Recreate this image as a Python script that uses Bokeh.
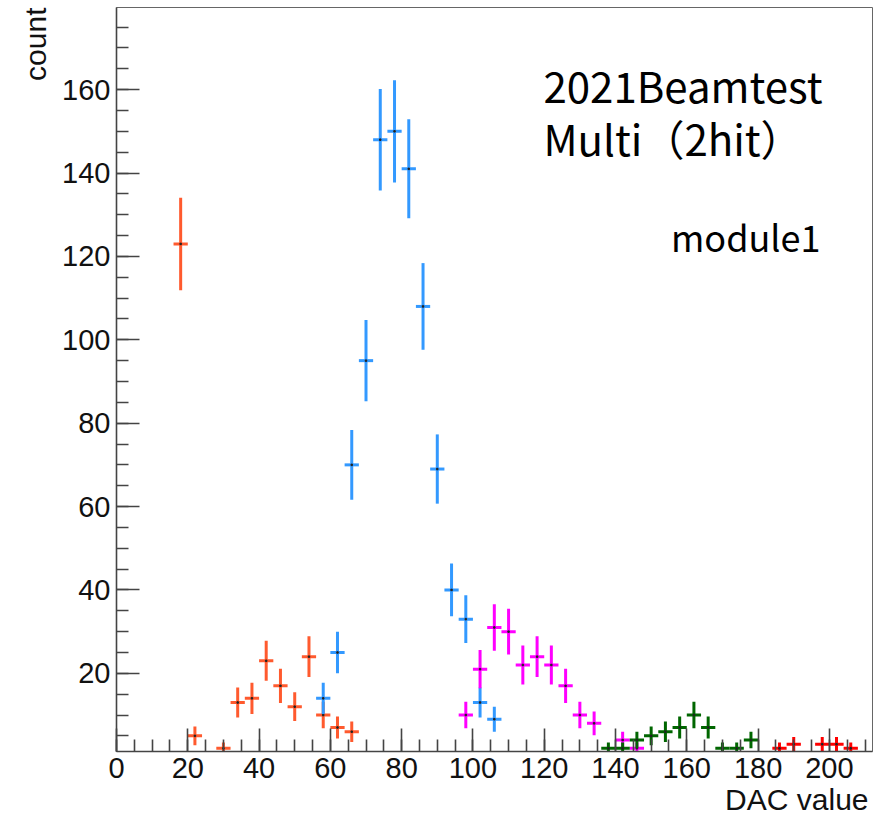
import numpy as np
from bokeh.plotting import figure
from bokeh.models import Label, SingleIntervalTicker, Range1d, Title
from bokeh.embed import file_html
from bokeh.resources import INLINE

# ---- data ----
orange_x = [18, 22, 30, 34, 38, 42, 46, 50, 54, 58, 62, 66]
orange_y = [123, 5, 2, 13, 14, 23, 17, 12, 24, 10, 7, 6]

blue_x = [58, 62, 66, 70, 74, 78, 82, 86, 90, 94, 98, 102, 106]
blue_y = [14, 25, 70, 95, 148, 150, 141, 108, 69, 40, 33, 13, 9]

magenta_x = [98, 102, 106, 110, 114, 118, 122, 126, 130, 134, 142, 146]
magenta_y = [10, 21, 31, 30, 22, 24, 22, 17, 10, 8, 4, 2]

green_x = [138, 142, 146, 150, 154, 158, 162, 166, 170, 174, 178]
green_y = [2, 2, 4, 5, 6, 7, 10, 7, 2, 2, 4]

red_x = [186, 190, 198, 202, 206]
red_y = [2, 3, 3, 3, 2]

bin_half_width = 2
series = [
    (orange_x, orange_y, "#ff5a2e"),
    (blue_x, blue_y, "#3399ff"),
    (magenta_x, magenta_y, "#ff00ff"),
    (green_x, green_y, "#006600"),
    (red_x, red_y, "#ff0000"),
]

p = figure(width=877, height=820, output_backend="svg", toolbar_location=None,
           x_range=Range1d(0, 212.1), y_range=Range1d(1.25, 179.7),
           min_border_left=116, min_border_right=5, min_border_top=7, min_border_bottom=69)

p.xgrid.visible = False
p.ygrid.visible = False
p.outline_line_color = "#666666"
p.outline_line_width = 1
p.background_fill_color = "white"
p.border_fill_color = "white"

for ax in (p.xaxis[0], p.yaxis[0]):
    ax.ticker = SingleIntervalTicker(interval=20, num_minor_ticks=4)
    ax.major_tick_in = 23
    ax.major_tick_out = 0
    ax.minor_tick_in = 12
    ax.minor_tick_out = 0
    ax.axis_line_color = "#444444"
    ax.axis_line_width = 1.6
    ax.major_tick_line_color = "#444444"
    ax.major_tick_line_width = 1.6
    ax.minor_tick_line_color = "#444444"
    ax.minor_tick_line_width = 1.6
    ax.major_label_text_font = "Liberation Sans"
    ax.major_label_text_font_size = "29px"
    ax.major_label_text_color = "#111111"

p.xaxis[0].major_label_standoff = 6
p.yaxis[0].major_label_standoff = 6
p.yaxis[0].major_label_overrides = {0: ""}

# axis titles, ROOT style (aligned to the axis end)
p.add_layout(Title(text="DAC value", align="right", standoff=0, offset=4,
                   text_font="Liberation Sans", text_font_size="30px",
                   text_font_style="normal", text_color="#111111"), "below")
p.add_layout(Title(text="count", align="right", standoff=16, offset=0,
                   text_font="Liberation Sans", text_font_size="30px",
                   text_font_style="normal", text_color="#111111"), "left")

for xs, ys, col in series:
    xs = np.array(xs, dtype=float)
    ys = np.array(ys, dtype=float)
    err = np.sqrt(ys)
    p.segment(x0=xs, y0=ys - err, x1=xs, y1=ys + err, line_color=col, line_width=3)
    p.segment(x0=xs - bin_half_width, y0=ys, x1=xs + bin_half_width, y1=ys,
              line_color=col, line_width=3)
    p.scatter(x=xs, y=ys, size=1.5, marker="square", color="#222222")

# annotations
cjk = "Noto Sans CJK JP"
p.add_layout(Label(x=427, y=667, x_units="screen", y_units="screen", text="2021Beamtest",
                   text_align="left", text_baseline="alphabetic",
                   text_font=cjk, text_font_size="42px", text_color="black"))
p.add_layout(Label(x=427, y=614, x_units="screen", y_units="screen", text="Multi（2hit）",
                   text_align="left", text_baseline="alphabetic",
                   text_font=cjk, text_font_size="42px", text_color="black"))
p.add_layout(Label(x=704, y=516, x_units="screen", y_units="screen", text="module1",
                   text_align="right", text_baseline="alphabetic",
                   text_font=cjk, text_font_size="36px", text_color="black"))

open("out.html", "w").write(file_html(p, INLINE))
